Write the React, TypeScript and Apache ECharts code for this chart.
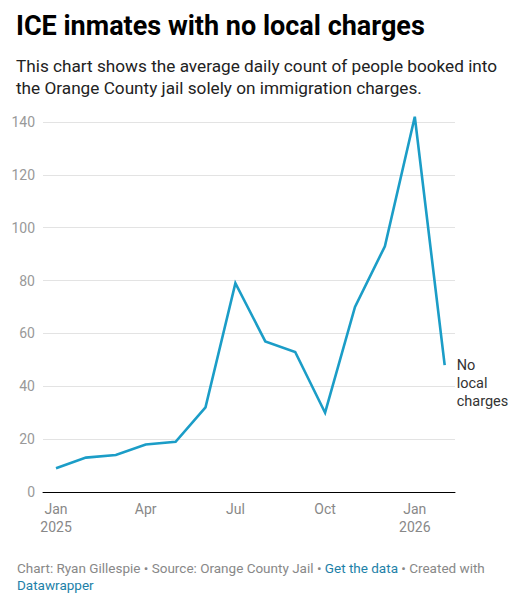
import React, { useEffect, useRef } from "react";
import * as echarts from "echarts";

// months Jan 2025 .. Feb 2026
const months = [
  "Jan 2025", "Feb 2025", "Mar 2025", "Apr 2025", "May 2025", "Jun 2025", "Jul 2025",
  "Aug 2025", "Sep 2025", "Oct 2025", "Nov 2025", "Dec 2025", "Jan 2026", "Feb 2026",
];
const inmates = [9, 13, 14, 18, 19, 32, 79, 57, 53, 30, 70, 93, 142, 48];

const xTickIndex = [0, 3, 6, 9, 12];
const xTickLabels = ["Jan\n2025", "Apr", "Jul", "Oct", "Jan\n2026"];
const yTicks = [0, 20, 40, 60, 80, 100, 120, 140];

const FONT = "Roboto, 'Noto Sans', sans-serif";

export default function App() {
  const chartRef = useRef<HTMLDivElement>(null);

  useEffect(() => {
    const chart = echarts.init(chartRef.current!, undefined, { renderer: "svg" });

    chart.setOption({
      animation: false,
      backgroundColor: "#fff",
      textStyle: { fontFamily: FONT },
      title: [
        {
          text: "ICE inmates with no local charges",
          left: 11,
          top: 7,
          textStyle: { fontSize: 27, fontWeight: "bold", color: "#000", fontFamily: FONT },
        },
        {
          text: "This chart shows the average daily count of people booked into\nthe Orange County jail solely on immigration charges.",
          left: 11,
          top: 50,
          textStyle: { fontSize: 17.2, fontWeight: "normal", color: "#222", lineHeight: 22, fontFamily: FONT },
        },
        {
          text: "{g|Chart: Ryan Gillespie • Source: Orange County Jail • }{b|Get the data}{g| • Created with}\n{b|Datawrapper}",
          left: 12,
          top: 554,
          textStyle: {
            fontSize: 13.5,
            fontWeight: "normal",
            lineHeight: 17,
            fontFamily: FONT,
            rich: {
              g: { fontSize: 13.5, fontWeight: "normal", color: "#888", lineHeight: 17, fontFamily: FONT },
              b: { fontSize: 13.5, fontWeight: "normal", color: "#1d81a8", lineHeight: 17, fontFamily: FONT },
            },
          },
        },
      ],
      grid: { left: 43, right: 70, top: 122, bottom: 108 },
      xAxis: {
        type: "value",
        min: -0.435,
        max: 13.345,
        axisLine: { show: true, lineStyle: { color: "#000", width: 1 } },
        axisTick: { show: false },
        splitLine: { show: false },
        axisLabel: {
          customValues: xTickIndex,
          formatter: (v: number) => xTickLabels[xTickIndex.indexOf(Math.round(v))] ?? "",
          color: "#888",
          fontSize: 14,
          lineHeight: 18,
          margin: 8,
          fontFamily: FONT,
        },
      },
      yAxis: {
        type: "value",
        min: 0,
        max: 140,
        interval: 20,
        axisLine: { show: false },
        axisTick: { show: false },
        axisLabel: {
          customValues: yTicks,
          color: "#999",
          fontSize: 14,
          margin: 8,
          fontFamily: FONT,
        },
        splitLine: { lineStyle: { color: "#e3e3e3", width: 1 } },
      },
      series: [
        {
          name: "No local charges",
          type: "line",
          data: inmates.map((v, i) => [i, v]),
          symbol: "none",
          clip: false,
          lineStyle: { color: "#1b9dc7", width: 2.6, join: "miter" },
          itemStyle: { color: "#1b9dc7" },
          z: 5,
          endLabel: {
            show: true,
            formatter: "No\nlocal\ncharges",
            color: "#333",
            fontSize: 14.5,
            lineHeight: 18,
            distance: 12,
            verticalAlign: "top",
            offset: [0, -9],
            fontFamily: FONT,
          },
        },
      ],
    });

    return () => {
      chart.dispose();
    };
  }, []);

  return (
    <div
      ref={chartRef}
      style={{ position: "fixed", left: 0, top: 0, width: "525px", height: "600px" }}
      title={months.join(", ")}
    />
  );
}
